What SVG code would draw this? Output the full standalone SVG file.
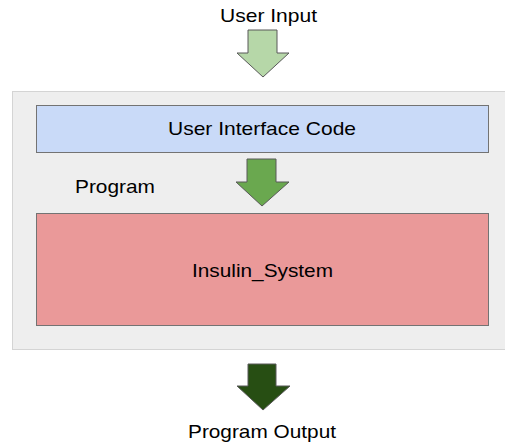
<svg xmlns="http://www.w3.org/2000/svg" width="505" height="446" viewBox="0 0 505 446">
<style>
text{font-family:"Liberation Sans",Arial,sans-serif;font-size:19px;fill:#000}
.c{text-anchor:middle}
.arr{stroke:#595959;stroke-width:1}
</style>
<rect x="0" y="0" width="505" height="446" fill="#ffffff"/>
<g id="container">
<rect x="12.5" y="91.5" width="500" height="258" fill="#eeeeee" stroke="#d4d4d4" stroke-width="1"/>
</g>
<g id="user-input"><text x="220" y="22" textLength="97" lengthAdjust="spacingAndGlyphs">User Input</text></g>
<g id="ui-code">
<rect x="36.5" y="105.5" width="452" height="47" fill="#c9daf8" stroke="#737373" stroke-width="1"/>
<text x="168" y="135" textLength="188" lengthAdjust="spacingAndGlyphs">User Interface Code</text>
</g>
<g id="program-label"><text x="75" y="193" textLength="80" lengthAdjust="spacingAndGlyphs">Program</text></g>
<g id="insulin-system">
<rect x="36.5" y="213.5" width="452" height="112" fill="#ea9999" stroke="#737373" stroke-width="1"/>
<text x="192" y="277" textLength="141" lengthAdjust="spacingAndGlyphs">Insulin_System</text>
</g>
<g id="program-output"><text x="188" y="438" textLength="148" lengthAdjust="spacingAndGlyphs">Program Output</text></g>
<g id="connectors">
<polygon class="arr" fill="#b6d7a8" points="248,30 277,30 277,53 289,53 263,77 237,53 248,53"/>
<polygon class="arr" fill="#6aa84f" stroke="none" points="247,159 276,159 276,182 289,182 262,206 236,182 247,182"/>
<polygon class="arr" fill="#274e13" stroke="none" points="248,364 276,364 276,386 290,386 263,410 237,386 248,386"/>
</g>
</svg>
